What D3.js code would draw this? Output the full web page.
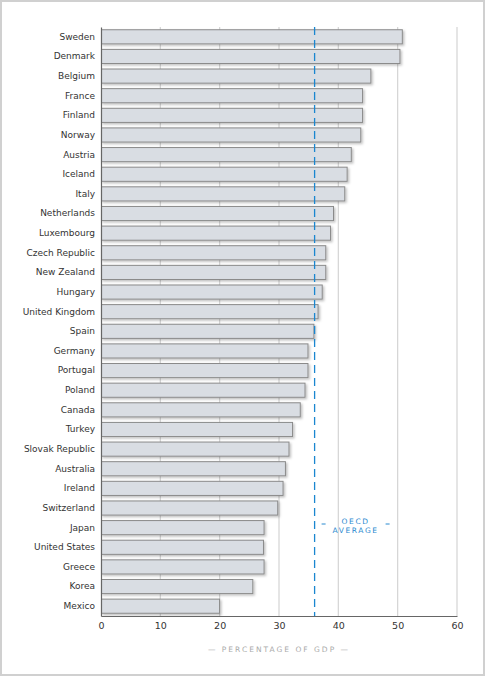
<!DOCTYPE html>
<html>
<head>
<meta charset="utf-8">
<script src="https://cdn.jsdelivr.net/npm/d3@7.9.0/dist/d3.min.js"></script>
<style>
  html, body { margin: 0; padding: 0; background: #fff; }
  svg { display: block; }
</style>
</head>
<body>
<svg id="chart" width="485" height="676"></svg>
<script>
const countries = ["Sweden", "Denmark", "Belgium", "France", "Finland", "Norway", "Austria",
  "Iceland", "Italy", "Netherlands", "Luxembourg", "Czech Republic", "New Zealand", "Hungary",
  "United Kingdom", "Spain", "Germany", "Portugal", "Poland", "Canada", "Turkey",
  "Slovak Republic", "Australia", "Ireland", "Switzerland", "Japan", "United States",
  "Greece", "Korea", "Mexico"];
const values = [50.7, 50.3, 45.4, 44.0, 44.0, 43.7, 42.1, 41.4, 41.0, 39.1, 38.6, 37.8, 37.8,
  37.2, 36.5, 35.8, 34.8, 34.8, 34.3, 33.5, 32.2, 31.6, 31.0, 30.6, 29.7, 27.4, 27.3, 27.4,
  25.5, 19.9];
const xTicks = [0, 10, 20, 30, 40, 50, 60];
const oecdAverage = 36.0;
const axisTitle = "— PERCENTAGE OF GDP —";
const avgLabel = ["OECD", "AVERAGE"];

const data = countries.map((c, i) => ({ country: c, value: values[i] }));

const svg = d3.select("#chart");

// light grey frame round the page
svg.append("rect")
  .attr("x", 1).attr("y", 1).attr("width", 483).attr("height", 674)
  .attr("fill", "#fff").attr("stroke", "#d0d0d0").attr("stroke-width", 2);

const defs = svg.append("defs");
const shadow = defs.append("filter").attr("id", "shadow")
  .attr("x", "-5%").attr("y", "-30%").attr("width", "115%").attr("height", "180%");
shadow.append("feDropShadow")
  .attr("dx", 1.5).attr("dy", 1.5).attr("stdDeviation", 1)
  .attr("flood-color", "#000").attr("flood-opacity", 0.25);

const plotLeft = 101, plotRight = 457, plotTop = 27, plotBottom = 616;

const x = d3.scaleLinear().domain([0, 60]).range([plotLeft, plotRight]);
const y = d3.scaleBand().domain(countries).range([plotTop, plotBottom])
  .paddingInner(0.28).paddingOuter(0.14);

// vertical grid
svg.append("g")
  .selectAll("line")
  .data(xTicks.slice(1))
  .join("line")
  .attr("x1", d => x(d)).attr("x2", d => x(d))
  .attr("y1", plotTop).attr("y2", plotBottom)
  .attr("stroke", "#d4d4d4").attr("stroke-width", 1.2);

// bars
svg.append("g")
  .selectAll("rect")
  .data(data)
  .join("rect")
  .attr("x", x(0) + 0.5)
  .attr("y", d => y(d.country))
  .attr("width", d => x(d.value) - x(0))
  .attr("height", y.bandwidth())
  .attr("fill", "#d9dde3")
  .attr("stroke", "#8a8a8a")
  .attr("stroke-width", 1)
  .attr("filter", "url(#shadow)");

// axes
const xAxis = svg.append("g")
  .attr("transform", `translate(0,${plotBottom})`)
  .call(d3.axisBottom(x).tickValues(xTicks).tickSize(0).tickPadding(6));
xAxis.select(".domain").attr("stroke", "#666").attr("stroke-width", 1.2);
xAxis.selectAll("text")
  .attr("font-family", "DejaVu Sans, Verdana, sans-serif")
  .attr("font-size", 9.5).attr("fill", "#333");

const yAxis = svg.append("g")
  .attr("transform", `translate(${plotLeft},0)`)
  .call(d3.axisLeft(y).tickSize(0).tickPadding(6));
yAxis.select(".domain").attr("stroke", "#666").attr("stroke-width", 1.2);
yAxis.selectAll("text")
  .attr("font-family", "DejaVu Sans, Verdana, sans-serif")
  .attr("font-size", 9).attr("fill", "#333");

// OECD average line
svg.append("line")
  .attr("x1", x(oecdAverage)).attr("x2", x(oecdAverage))
  .attr("y1", plotTop).attr("y2", plotBottom)
  .attr("stroke", "#1a86d0").attr("stroke-width", 1.3)
  .attr("stroke-dasharray", "8,5");

const avgX = x(oecdAverage) + 41;
svg.append("g")
  .selectAll("text")
  .data(avgLabel)
  .join("text")
  .attr("x", avgX)
  .attr("y", (d, i) => 524 + i * 9)
  .attr("text-anchor", "middle")
  .attr("font-family", "DejaVu Sans, Verdana, sans-serif")
  .attr("font-size", 7.5)
  .attr("letter-spacing", 1.6)
  .attr("fill", "#2a8ad0")
  .text(d => d);
svg.append("g")
  .selectAll("line")
  .data([-1, 1])
  .join("line")
  .attr("x1", d => avgX + d * 30).attr("x2", d => avgX + d * 34)
  .attr("y1", 524).attr("y2", 524)
  .attr("stroke", "#2a8ad0").attr("stroke-width", 1);

// axis title
svg.append("text")
  .attr("x", (plotLeft + plotRight) / 2)
  .attr("y", 652)
  .attr("text-anchor", "middle")
  .attr("font-family", "DejaVu Sans, Verdana, sans-serif")
  .attr("font-size", 7.5)
  .attr("letter-spacing", 2)
  .attr("fill", "#aaa")
  .text(axisTitle);
</script>
</body>
</html>
